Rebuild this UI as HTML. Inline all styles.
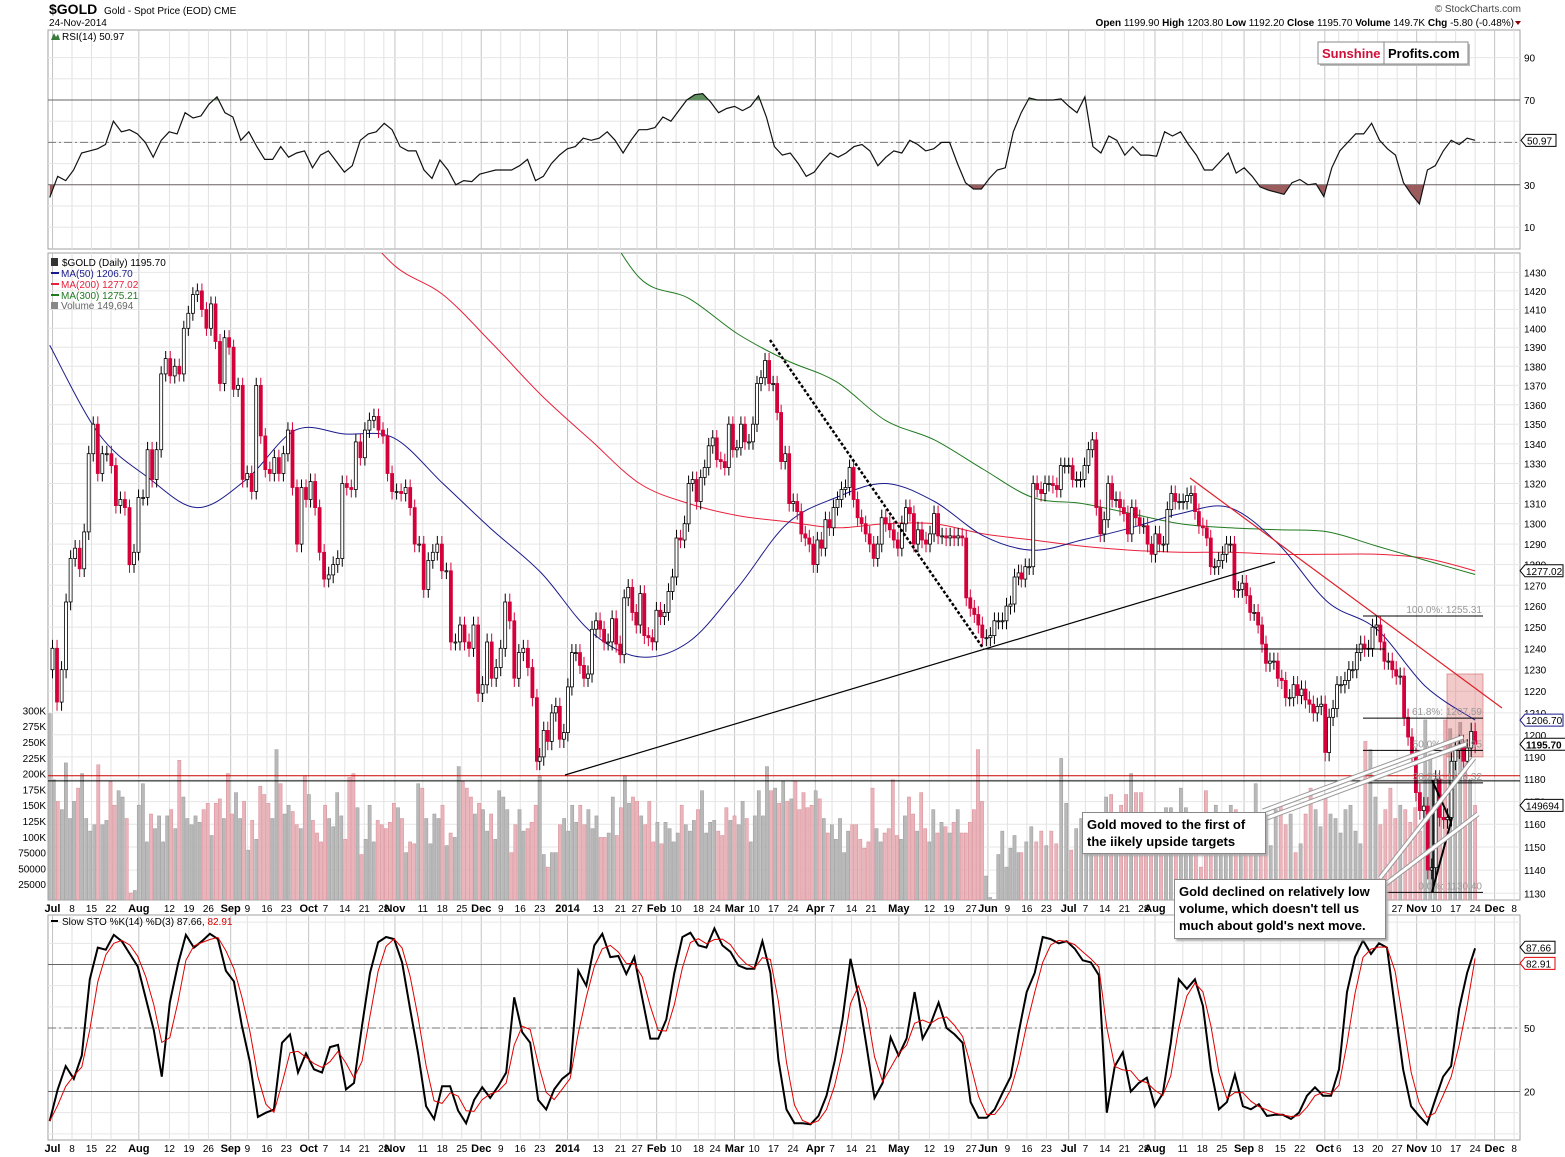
<!DOCTYPE html>
<html><head><meta charset="utf-8"><title>$GOLD chart</title>
<style>
html,body{margin:0;padding:0;background:#fff;}
body{width:1565px;height:1157px;position:relative;overflow:hidden;font-family:"Liberation Sans",sans-serif;}
svg{position:absolute;left:0;top:0;}
svg text{font-family:"Liberation Sans",sans-serif;}
.callout{position:absolute;background:#fff;border:1px solid #888;box-shadow:2px 2px 2px #aaa;font:bold 13px "Liberation Sans",sans-serif;color:#000;padding:3px 4px;line-height:17px;white-space:nowrap;}
</style></head>
<body>
<svg id="chart" width="1565" height="1157" viewBox="0 0 1565 1157" xmlns="http://www.w3.org/2000/svg"></svg>
<div class="callout" style="left:1082px;top:812px;width:174px;height:34px;">Gold moved to the first of<br>the iikely upside targets</div>
<div class="callout" style="left:1174px;top:879px;width:202px;height:52px;">Gold declined on relatively low<br>volume, which doesn't tell us<br>much about gold's next move.</div>
<script>
// ---------- DATA ----------
const closesSeg1=[1240,1215,1230,1262,1283,1288,1278,1296,1335,1350,1325,1335,1335,1329,1309,1312,1308,1280,1286,1313,1313,1337,1322,1337,1376,1384,1375,1380,1376,1400,1408,1418,1420,1410,1400,1413,1393,1371,1395,1390,1368,1370,1322,1325,1316,1370,1344,1327,1325,1333,1325,1335,1347,1318,1290,1318,1312,1321,1308,1286,1273,1275,1280,1283,1320,1318,1317,1341,1333,1347,1352,1354,1347,1344,1325,1316,1316,1315,1318,1308,1290,1290,1268,1282,1286,1290,1277,1277,1243,1243,1251,1243,1240,1251,1219,1223,1243,1226,1231,1240,1262,1253,1226,1238,1240,1231,1217,1188];
const closesSeg2=[1190,1202,1197,1210,1213,1198,1201,1222,1238,1238,1232,1226,1228,1249,1253,1249,1243,1243,1254,1242,1237,1264,1269,1257,1251,1266,1246,1245,1243,1258,1255,1257,1267,1274,1293,1292,1300,1320,1322,1311,1323,1328,1339,1343,1332,1331,1328,1350,1337,1338,1350,1341,1341,1350,1371,1374,1383,1371,1371,1356,1331,1335,1310,1311,1306,1295,1293,1290,1280,1292,1288,1302,1298,1308,1312,1317,1318,1328,1312,1303,1300,1295,1290,1283,1290,1303,1300,1297,1292,1288,1300,1308,1305,1290,1297,1292,1290,1295,1305,1294,1294,1293,1294,1293,1294,1293,1264,1259,1256,1251,1245,1245,1246,1253,1253,1253,1260,1261,1274,1276];
const closesSeg3=[1273,1279,1279,1320,1317,1315,1320,1320,1319,1317,1329,1329,1329,1322,1322,1322,1329,1337,1342,1308,1295,1302,1320,1312,1312,1308,1305,1295,1308,1303,1299,1299,1290,1285,1295,1290,1290,1307,1315,1311,1311,1311,1314,1315,1306,1299,1298,1293,1279,1279,1282,1285,1290,1290,1268,1268,1271,1265,1257,1257,1251,1242,1233,1234,1234,1226,1225,1217,1217,1223,1218,1221,1216,1214,1210,1213,1214,1192,1208,1212,1223,1223,1225,1230,1230,1238,1242,1240,1240,1250,1251,1243,1234,1234,1230,1227,1227,1208,1199,1190,1174,1166,1168,1140,1141,1180,1163,1162,1163,1188,1193,1196,1188,1194,1201.5,1195.7];
const segDates=[['2013-07-01','2013-12-22'],['2013-12-23','2014-06-13'],['2014-06-14','2014-11-24']];

const volSeg1=[295,190,156,143,217,129,156,177,200,129,109,119,214,119,126,187,150,173,163,129,11,15,150,184,92,136,113,133,92,133,143,113,221,163,129,119,133,123,143,153,102,153,160,129,200,136,170,129,156,79,126,96,180,167,153,129,238,184,136,150,140,119,113,197,167,126,106,92,150,129,116,170,133,96,194,200,146,72,96,150,92,126,119,113,123,153,146,129,75,92,89,184,177,129,89,136,129,150,86,106,99,211,187,177,163,136,153,143,109,136,96,173,163,143,75,119,143,109,113,123,150,197];
const volSeg2=[194,72,52,75,75,119,129,109,150,123,150,119,143,113,133,99,99,106,163,102,146,197,153,163,156,133,119,156,92,123,89,123,113,92,106,150,119,109,126,143,173,106,123,126,109,102,146,126,133,119,156,129,92,133,173,133,211,173,177,153,187,156,160,187,143,170,146,150,173,160,129,106,119,96,129,75,109,119,119,96,82,92,177,113,92,106,113,190,102,96,133,163,136,109,170,113,92,143,106,123,116,106,123,143,106,106,123,143,238,156,38,4,1,72,109,52,82,102,75];
const volSeg3=[75,92,116,92,109,86,109,89,224,153,79,113,129,123,92,109,113,163,167,102,150,167,200,170,170,109,89,96,116,146,146,96,177,146,129,102,52,173,109,150,129,116,150,143,82,133,96,184,136,129,86,143,150,119,136,75,89,136,177,143,116,163,136,129,106,143,150,109,89,251,238,163,119,143,177,129,150,143,123,146,109,285,231,150,167,285,271,217,281,217,190,149.694];
const volDates=[['2013-06-30','2013-12-23'],['2013-12-23','2014-06-13'],['2014-06-14','2014-11-24']];

const ma50=[1391,1345,1323,1308,1322,1347,1345,1343,1320,1297,1276,1248,1236,1243,1269,1300,1313,1320,1311,1294,1287,1292,1298,1305,1308,1290,1262,1249,1222,1206.7];
const ma200=[null,null,null,null,null,null,1465,1434,1418,1392,1365,1342,1320,1310,1304,1301,1298,1300,1300,1295,1292,1289,1287,1286,1286,1285,1285,1285,1283,1277.02];
const ma300=[null,null,null,null,null,null,null,null,null,null,null,1470,1427,1416,1397,1383,1372,1352,1342,1327,1313,1310,1305,1300,1298,1297,1296,1289,1282,1275.21];
const seriesRange=['2013-06-30','2014-11-24'];

const rsi=[24,34,32,37,45,46,47,49,60,55,56,54,50,43,51,55,54,64,61.5,62.5,68,71.5,64,62,51,55,48,42,42,48,43,45,46,38,44,46,41,36,39,51,54,55,59,56,48,46,46,37,33,41.7,37,30,32,31.5,35,36,37,37,37,39,42,32,34,40,44,47,48,52,51,52,55,51,45,51,56,56,57,62,60,65,70,72.5,73,69,64,66,67,65,67,72,62,48,44,45,40,34,36,41,45,43,45,48,49,46,39,43,46,45,51,49,46,47,50,50,40,31,28,28,33,37,38,55,64,71,70,70,70,70.5,67,64,71.5,48,45,53,51,44,48,44,44,43.5,55,53,55,49,44,37,37,41,45,35.5,38,34,29,27.5,26.5,25.5,31,32.5,30,30.5,24.5,38,46,50,54,54,59,51,47,44,31,25.5,21,37,39,46,51,49,52,50.97];

const stoK=[6,21,32,26,37,73,88,87,94,91,85,79,64,49,27,62,80,94,88,91,94.5,92,77,72,51,34,8,10,11.5,43,47,29,38,30.5,29,41,42,21,24,51,76,90.5,93,92,81,59,38,13,7,22.5,22.5,11,5,16,22,17,22.5,29,64.5,48,43,16,11.5,21,26,29,77,70,89,94.5,83.5,84,75.5,83.5,64,45,45,54,76,93,95,89,88,97,89,86,79.5,78,78,91,76,35,11.5,5,5,4.5,8.5,18,34,54,82.7,65,41.6,17,24,45.6,37,45,67,45,52,62,50,47,43,15,7.6,7.6,11.6,19.5,27,48,67,76,93,92,90,91,87.5,82,81,75,10,32,38.5,20,24,26.5,13,19,43,73,68.5,73,60.5,30.5,11.6,15,28,13,11.6,14,8.5,9,9,7,10,18,22,18,18,30.5,67,83.5,91.4,85,90,88,59,30.5,13,8.5,4.5,16,27,32,59,76,87.66];

const priceTicks=[1430,1420,1410,1400,1390,1380,1370,1360,1350,1340,1330,1320,1310,1300,1290,1280,1270,1260,1250,1240,1230,1220,1210,1200,1190,1180,1170,1160,1150,1140,1130];
const volTicks=[300,275,250,225,200,175,150,125,100,75,50,25];
const volTickLabels=['300K','275K','250K','225K','200K','175K','150K','125K','100K','75000','50000','25000'];
const rsiTicks=[90,70,30,10];
const stoTicks=[80,50,20];
const dateLabels=[['2013-07-01','Jul',1],['2013-07-08','8',0],['2013-07-15','15',0],['2013-07-22','22',0],['2013-08-01','Aug',1],['2013-08-12','12',0],['2013-08-19','19',0],['2013-08-26','26',0],['2013-09-03','Sep',1],['2013-09-09','9',0],['2013-09-16','16',0],['2013-09-23','23',0],['2013-10-01','Oct',1],['2013-10-07','7',0],['2013-10-14','14',0],['2013-10-21','21',0],['2013-10-28','28',0],['2013-11-01','Nov',1],['2013-11-11','11',0],['2013-11-18','18',0],['2013-11-25','25',0],['2013-12-02','Dec',1],['2013-12-09','9',0],['2013-12-16','16',0],['2013-12-23','23',0],['2014-01-02','2014',1],['2014-01-13','13',0],['2014-01-21','21',0],['2014-01-27','27',0],['2014-02-03','Feb',1],['2014-02-10','10',0],['2014-02-18','18',0],['2014-02-24','24',0],['2014-03-03','Mar',1],['2014-03-10','10',0],['2014-03-17','17',0],['2014-03-24','24',0],['2014-04-01','Apr',1],['2014-04-07','7',0],['2014-04-14','14',0],['2014-04-21','21',0],['2014-05-01','May',1],['2014-05-12','12',0],['2014-05-19','19',0],['2014-05-27','27',0],['2014-06-02','Jun',1],['2014-06-09','9',0],['2014-06-16','16',0],['2014-06-23','23',0],['2014-07-01','Jul',1],['2014-07-07','7',0],['2014-07-14','14',0],['2014-07-21','21',0],['2014-07-28','28',0],['2014-08-01','Aug',1],['2014-08-11','11',0],['2014-08-18','18',0],['2014-08-25','25',0],['2014-09-02','Sep',1],['2014-09-08','8',0],['2014-09-15','15',0],['2014-09-22','22',0],['2014-10-01','Oct',1],['2014-10-06','6',0],['2014-10-13','13',0],['2014-10-20','20',0],['2014-10-27','27',0],['2014-11-03','Nov',1],['2014-11-10','10',0],['2014-11-17','17',0],['2014-11-24','24',0],['2014-12-01','Dec',1],['2014-12-08','8',0]];
const fibLevels=[[1255.31,'100.0%: 1255.31'],[1207.59,'61.8%: 1207.59'],[1192.95,'50.0%: 1192.95'],[1178.32,'38.2%: 1178.32'],[1130.40,'0.0%: 1130.40']];

// ---------- SCALES ----------
const L=48,R=1520;
const RSI_T=30,RSI_B=249,MAIN_T=253,MAIN_B=900,STO_T=915,STO_B=1140;
function dx(s){const p=s.split('-').map(Number);return 72+2.784*(Date.UTC(p[0],p[1]-1,p[2])-Date.UTC(2013,6,8))/864e5;}
function yP(p){return 893.3-2637*Math.log(p/1130);}
function yV(v){return 900-0.632*v;}
function yR(v){return 100+(70-v)*2.12;}
function yS(v){return 1028-(v-50)*2.117;}

const svg=document.getElementById('chart');
const NS='http://www.w3.org/2000/svg';
function mk(tag,attrs,parent){const e=document.createElementNS(NS,tag);for(const k in attrs)e.setAttribute(k,attrs[k]);(parent||svg).appendChild(e);return e;}
function txt(x,y,s,attrs,parent){const e=mk('text',Object.assign({x:x,y:y,'font-size':10,fill:'#000'},attrs||{}),parent);e.textContent=s;return e;}
function smooth(pts){if(pts.length<2)return '';let d='M'+pts[0][0].toFixed(1)+','+pts[0][1].toFixed(1);
  for(let i=0;i<pts.length-1;i++){const p0=pts[Math.max(0,i-1)],p1=pts[i],p2=pts[i+1],p3=pts[Math.min(pts.length-1,i+2)];
    const c1=[p1[0]+(p2[0]-p0[0])/6,p1[1]+(p2[1]-p0[1])/6],c2=[p2[0]-(p3[0]-p1[0])/6,p2[1]-(p3[1]-p1[1])/6];
    d+=` C${c1[0].toFixed(1)},${c1[1].toFixed(1)} ${c2[0].toFixed(1)},${c2[1].toFixed(1)} ${p2[0].toFixed(1)},${p2[1].toFixed(1)}`;}
  return d;}

const defs=mk('defs',{});
[['clipRsi',RSI_T,RSI_B],['clipMain',MAIN_T,MAIN_B],['clipSto',STO_T,STO_B],['clipAbove70',RSI_T,yR(70)],['clipBelow30',yR(30),RSI_B]].forEach(c=>{const cp=mk('clipPath',{id:c[0]},defs);mk('rect',{x:L,y:c[1],width:R-L,height:c[2]-c[1]},cp);});

// ---------- HEADER ----------
const hdr=mk('g',{});


txt(49,14,'$GOLD',{'font-size':14,'font-weight':'bold'},hdr);
txt(104,14,'Gold - Spot Price (EOD)  CME',{'font-size':10},hdr);
txt(49,26,'24-Nov-2014',{'font-size':10},hdr);
txt(1521,12,'© StockCharts.com',{'font-size':10,'text-anchor':'end',fill:'#444'},hdr);
const ohlc=txt(1514,26,'',{'font-size':10,'text-anchor':'end'},hdr);
ohlc.innerHTML='<tspan font-weight="bold">Open</tspan> 1199.90 <tspan font-weight="bold">High</tspan> 1203.80 <tspan font-weight="bold">Low</tspan> 1192.20 <tspan font-weight="bold">Close</tspan> 1195.70 <tspan font-weight="bold">Volume</tspan> 149.7K <tspan font-weight="bold">Chg</tspan> -5.80 (-0.48%)';
mk('path',{d:'M1515,21 l6,0 l-3,4 z',fill:'#8b0000'},hdr);

// ---------- PANELS & GRID ----------
function panel(top,bot,name){
  const g=mk('g',{});
  
  
  mk('rect',{x:L,y:top,width:R-L,height:bot-top,fill:'#fff',stroke:'#a0a0a0','stroke-width':1},g);
  dateLabels.forEach(d=>{const x=dx(d[0]);if(x<L||x>R)return;mk('line',{x1:x,x2:x,y1:top,y2:bot,stroke:d[2]?'#c4c4c4':'#e2e2e2','stroke-width':1},g);});
  return g;
}
const gR=panel(RSI_T,RSI_B,'rsi-panel');
for(let v=10;v<=90;v+=10){mk('line',{x1:L,x2:R,y1:yR(v),y2:yR(v),stroke:'#e6e6e6'},gR);}
const gM=panel(MAIN_T,MAIN_B,'price-panel');
priceTicks.forEach(p=>{const y=yP(p);if(y<MAIN_T)return;mk('line',{x1:L,x2:R,y1:y,y2:y,stroke:'#e6e6e6'},gM);});
const gS=panel(STO_T,STO_B,'stochastic-panel');
for(let v=0;v<=100;v+=10){const y=yS(v);if(y<STO_T||y>STO_B)continue;mk('line',{x1:L,x2:R,y1:y,y2:y,stroke:'#e6e6e6'},gS);}

function dateAxis(y,name){
  const g=mk('g',{});
  
  
  dateLabels.forEach(d=>{const x=dx(d[0]);if(x<L-5||x>R)return;txt(x,y,d[1],{'font-size':d[2]?11:10,'font-weight':d[2]?'bold':'normal','text-anchor':'middle'},g);});
}
dateAxis(912,'date-axis-middle');
dateAxis(1152,'date-axis-bottom');

// ---------- RSI ----------
mk('line',{x1:L,x2:R,y1:yR(70),y2:yR(70),stroke:'#666','stroke-width':1},gR);
mk('line',{x1:L,x2:R,y1:yR(30),y2:yR(30),stroke:'#666','stroke-width':1},gR);
mk('line',{x1:L,x2:R,y1:yR(50),y2:yR(50),stroke:'#777','stroke-width':1,'stroke-dasharray':'8,3,2,3'},gR);
const x0=dx(seriesRange[0]),x1=dx(seriesRange[1]);
const rsiPts=rsi.map((v,i)=>[x0+(x1-x0)*i/(rsi.length-1),yR(v)]);
const rsiD='M'+rsiPts.map(p=>p[0].toFixed(1)+','+p[1].toFixed(1)).join(' L');
const fillHi=mk('path',{d:rsiD+` L${x1},${yR(70)} L${x0},${yR(70)} Z`,fill:'#5f8f5f','clip-path':'url(#clipAbove70)'},gR);


const fillLo=mk('path',{d:rsiD+` L${x1},${yR(30)} L${x0},${yR(30)} Z`,fill:'#9a5c5c','clip-path':'url(#clipBelow30)'},gR);


const rsiLine=mk('path',{d:rsiD,fill:'none',stroke:'#111','stroke-width':1.2,'clip-path':'url(#clipRsi)'},gR);


txt(62,40,'RSI(14) 50.97',{'font-size':10},gR);
mk('path',{d:'M51,40 l3,-7 l2,4 l2,-3 l2,6 z',fill:'#3a7a3a'},gR);
rsiTicks.forEach(v=>txt(1524,yR(v)+4,String(v),{'font-size':10},gR));
mk('path',{d:`M1521,${yR(50.97)} l5,-6 h30 v12 h-30 z`,fill:'#fff',stroke:'#000'},gR);
txt(1527,yR(50.97)+4,'50.97',{'font-size':10},gR);
const logo=mk('g',{});


mk('rect',{x:1320,y:44,width:150,height:22,fill:'#bbb'},logo);
mk('rect',{x:1318,y:42,width:150,height:22,fill:'#fff',stroke:'#888'},logo);
mk('line',{x1:1384,x2:1384,y1:42,y2:64,stroke:'#888'},logo);
txt(1322,58,'Sunshine',{'font-size':13,'font-weight':'bold',fill:'#d0103a'},logo);
txt(1388,58,'Profits.com',{'font-size':13,'font-weight':'bold',fill:'#000'},logo);

// ---------- MAIN: volume ----------
const allCloses=[];const candleX=[];
[closesSeg1,closesSeg2,closesSeg3].forEach((arr,si)=>{const a=dx(segDates[si][0]),b=dx(segDates[si][1]);arr.forEach((c,i)=>{allCloses.push(c);candleX.push(a+(b-a)*i/(arr.length-1));});});
function dirAt(x){let best=0,bd=1e9;for(let i=0;i<candleX.length;i++){const d=Math.abs(candleX[i]-x);if(d<bd){bd=d;best=i;}}return best>0&&allCloses[best]<allCloses[best-1]?-1:1;}
const gVol=mk('g',{'clip-path':'url(#clipMain)'},gM);


[volSeg1,volSeg2,volSeg3].forEach((arr,si)=>{const a=dx(volDates[si][0]),b=dx(volDates[si][1]);arr.forEach((v,i)=>{const x=a+(b-a)*i/(arr.length-1);const down=dirAt(x)<0;
  const bar=mk('rect',{x:(x-1.6).toFixed(1),y:yV(v).toFixed(1),width:3.2,height:(900-yV(v)).toFixed(1),fill:down?'#e9b5bb':'#b9b9b9',stroke:down?'#d88a94':'#9a9a9a','stroke-width':0.5},gVol);
  
  });});

const hl=mk('rect',{x:1447,y:yP(1228),width:36,height:yP(1190)-yP(1228),fill:'rgba(215,90,90,0.32)',stroke:'rgba(200,80,80,0.5)'},gM);



// ---------- MAs ----------
function maPath(arr,color,name){const pts=[];arr.forEach((v,i)=>{if(v===null)return;pts.push([x0+(x1-x0)*i/(arr.length-1),yP(v)]);});
  const p=mk('path',{d:smooth(pts),fill:'none',stroke:color,'stroke-width':1,'clip-path':'url(#clipMain)'},gM);
  
  }
maPath(ma200,'#e8203a','ma200-line');
maPath(ma300,'#1f7a1f','ma300-line');
maPath(ma50,'#1a1a8c','ma50-line');

// ---------- candles ----------
const gC=mk('g',{'clip-path':'url(#clipMain)'},gM);


allCloses.forEach((c,i)=>{const o=i>0?allCloses[i-1]:c-10;const x=candleX[i];const up=c>=o;
  const hi=Math.max(o,c)+4,lo=Math.min(o,c)-4;const col=up?'#000':'#d4003a';
  const w=mk('line',{x1:x,x2:x,y1:yP(hi),y2:yP(lo),stroke:col,'stroke-width':1},gC);
  
  
  const yt=yP(Math.max(o,c)),yb=yP(Math.min(o,c));
  const b=mk('rect',{x:(x-1.5).toFixed(1),y:yt.toFixed(1),width:3,height:Math.max(1,yb-yt).toFixed(1),fill:up?'#fff':'#d4003a',stroke:col,'stroke-width':0.8},gC);
  
  });

// ---------- annotations ----------
const gA=mk('g',{'clip-path':'url(#clipMain)'},gM);


mk('line',{x1:L,x2:R,y1:yP(1181.5),y2:yP(1181.5),stroke:'#cc0000','stroke-width':1},gA);
mk('line',{x1:L,x2:R,y1:yP(1179.2),y2:yP(1179.2),stroke:'#000','stroke-width':1},gA);
mk('line',{x1:565,y1:775,x2:1275,y2:562,stroke:'#000','stroke-width':1.2},gA);
mk('line',{x1:983,y1:649,x2:1385,y2:649,stroke:'#000','stroke-width':1},gA);
mk('line',{x1:770,y1:340,x2:983,y2:648,stroke:'#000','stroke-width':2.5,'stroke-dasharray':'3,2'},gA);
mk('line',{x1:1190,y1:478,x2:1502,y2:708,stroke:'#e0202a','stroke-width':1.2},gA);
fibLevels.forEach(f=>{const y=yP(f[0]);mk('line',{x1:1363,x2:1483,y1:y,y2:y,stroke:'#000','stroke-width':1},gA);txt(1482,y-3,f[1],{'font-size':10,'text-anchor':'end',fill:'#999'},gA);});
mk('line',{x1:1432,y1:780,x2:1451,y2:822,stroke:'#000','stroke-width':2},gA);
mk('line',{x1:1432,y1:892,x2:1452,y2:818,stroke:'#000','stroke-width':2},gA);
mk('line',{x1:1433,y1:780,x2:1433,y2:892,stroke:'#000','stroke-width':1.5},gA);
[[1263,811,1463,737],[1267,818,1466,744],[1380,878,1474,758],[1383,886,1478,814]].forEach(l=>{
  mk('line',{x1:l[0],y1:l[1],x2:l[2],y2:l[3],stroke:'#999','stroke-width':5},gA);
  mk('line',{x1:l[0],y1:l[1],x2:l[2],y2:l[3],stroke:'#fff','stroke-width':3},gA);});

const gL=mk('g',{},gM);


txt(62,266,'$GOLD (Daily) 1195.70',{'font-size':10},gL);
mk('rect',{x:51,y:258,width:7,height:8,fill:'#333'},gL);
[['MA(50) 1206.70','#1a1a8c',277],['MA(200) 1277.02','#e8203a',288],['MA(300) 1275.21','#1f7a1f',299]].forEach(m=>{mk('line',{x1:51,x2:59,y1:m[2]-4,y2:m[2]-4,stroke:m[1],'stroke-width':2},gL);txt(61,m[2],m[0],{'font-size':10,fill:m[1]},gL);});
mk('rect',{x:51,y:302,width:7,height:7,fill:'#888'},gL);
txt(61,309,'Volume 149,694',{'font-size':10,fill:'#666'},gL);

const gAx=mk('g',{});


priceTicks.forEach(p=>txt(1524,yP(p)+4,String(p),{'font-size':10},gAx));
volTicks.forEach((v,i)=>txt(46,yV(v)+4,volTickLabels[i],{'font-size':10,'text-anchor':'end'},gAx));
function tag(y,label,bold,color){mk('path',{d:`M1520,${y} l5,-6 h${bold?42:38} v12 h-${bold?42:38} z`,fill:'#fff',stroke:color},gAx);txt(1526,y+4,label,{'font-size':10,'font-weight':bold?'bold':'normal',fill:'#000'},gAx);}
tag(yP(1277.02),'1277.02',false,'#000');
tag(yP(1206.7),'1206.70',false,'#1a1a8c');
tag(yP(1195.7),'1195.70',true,'#000');
tag(yV(149.694),'149694',false,'#000');

// ---------- STO ----------
mk('line',{x1:L,x2:R,y1:yS(80),y2:yS(80),stroke:'#666'},gS);
mk('line',{x1:L,x2:R,y1:yS(20),y2:yS(20),stroke:'#666'},gS);
mk('line',{x1:L,x2:R,y1:yS(50),y2:yS(50),stroke:'#777','stroke-dasharray':'8,3,2,3'},gS);
const stoD=stoK.map((v,i)=>i===0?v:(i===1?(v+stoK[0])/2:(v+stoK[i-1]+stoK[i-2]*0.5)/2.5));
stoD[stoD.length-1]=82.91;
function stoPath(arr,color,w,name){const d='M'+arr.map((v,i)=>(x0+(x1-x0)*i/(arr.length-1)).toFixed(1)+','+yS(v).toFixed(1)).join(' L');
  const p=mk('path',{d:d,fill:'none',stroke:color,'stroke-width':w,'clip-path':'url(#clipSto)'},gS);
  
  }
stoPath(stoK,'#000',2,'sto-k-line');
stoPath(stoD,'#e00000',1,'sto-d-line');
const sl=txt(62,925,'',{'font-size':10},gS);
sl.innerHTML='Slow STO %K(14) %D(3) 87.66, <tspan fill="#e00000">82.91</tspan>';
mk('line',{x1:51,x2:58,y1:921,y2:921,stroke:'#000','stroke-width':2},gS);
stoTicks.forEach(v=>txt(1524,yS(v)+4,String(v),{'font-size':10},gS));
mk('path',{d:`M1520,${yS(87.66)-1} l5,-6 h30 v12 h-30 z`,fill:'#fff',stroke:'#000'},gS);
txt(1526,yS(87.66)+3,'87.66',{'font-size':10},gS);
mk('path',{d:`M1520,${yS(82.91)+5} l5,-6 h30 v12 h-30 z`,fill:'#fff',stroke:'#e00000'},gS);
txt(1526,yS(82.91)+9,'82.91',{'font-size':10},gS);
</script>
</body></html>
